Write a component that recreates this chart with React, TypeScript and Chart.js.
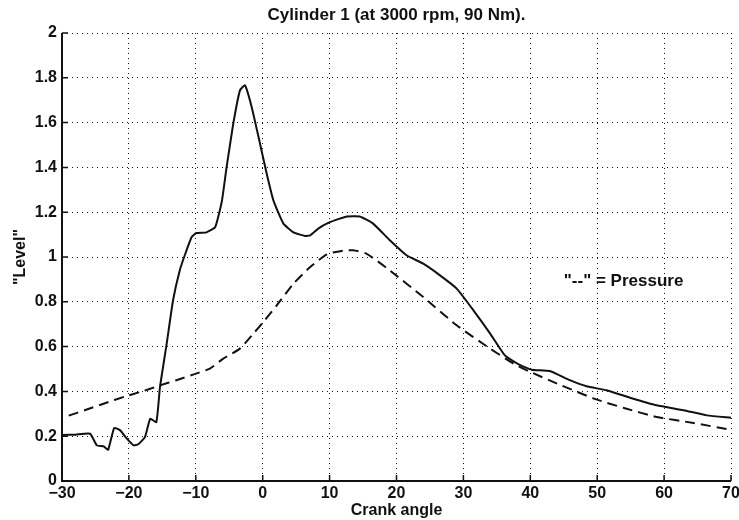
import React, { useEffect, useRef } from "react";
import { Chart, registerables } from "chart.js";

Chart.register(...registerables);

// ---- Data ----
const TITLE = "Cylinder 1 (at 3000 rpm, 90 Nm).";
const X_LABEL = "Crank angle";
const Y_LABEL = '"Level"';
const NOTE_TEXT = '"--" = Pressure';
const NOTE_X = 45;
const NOTE_Y = 0.89;

const X_MIN = -30;
const X_MAX = 70;
const X_STEP = 10;
const Y_MIN = 0;
const Y_MAX = 2;
const Y_STEP = 0.2;

const levelX = [
  -30, -28, -25.8, -24.8, -23.8, -23.1, -22.2, -21.3, -20.3, -19.3, -18.6, -17.6,
  -16.8, -15.9, -15.35, -14.35, -13.4, -12.4, -11.5, -10.6, -9.9, -8.4, -7.1, -6.1,
  -5.4, -4.4, -3.4, -2.65, -1.65, -0.4, 0.6, 1.6, 3.1, 4.6, 6.35, 7.1, 8.3, 9.8,
  11.4, 12.6, 14.5, 16.5, 19.0, 21.5, 24.0, 26.5, 29.0, 31.5, 34.0, 36.2, 38.5,
  40.2, 42.9, 45.9, 48.4, 51.4, 54.9, 58.9, 62.9, 66.4, 70,
];
const levelY = [
  0.205, 0.207, 0.211, 0.159, 0.155, 0.14, 0.237, 0.226, 0.189, 0.159, 0.164, 0.196,
  0.278, 0.263, 0.42, 0.613, 0.807, 0.94, 1.02, 1.09, 1.107, 1.11, 1.134, 1.25,
  1.4, 1.595, 1.744, 1.766, 1.67, 1.506, 1.372, 1.253, 1.149, 1.11, 1.094, 1.097,
  1.127, 1.152, 1.17, 1.181, 1.181, 1.149, 1.075, 1.008, 0.97, 0.918, 0.859, 0.762,
  0.658, 0.561, 0.517, 0.497, 0.491, 0.45, 0.423, 0.405, 0.372, 0.338, 0.316, 0.293,
  0.282,
];

const pressureX = [
  -29, -26.3, -23.8, -20.3, -18.3, -15.35, -12.9, -10.4, -7.9, -5.9, -3.4, -1.4,
  0.1, 2.1, 4.6, 7.1, 9.6, 12.0, 13.5, 15.5, 19.0, 24.0, 29.0, 34.0, 37.5, 40.0,
  44.0, 49.5, 54.0, 58.9, 64.4, 70,
];
const pressureY = [
  0.292, 0.319, 0.345, 0.38, 0.397, 0.427, 0.45, 0.475, 0.502, 0.546, 0.591, 0.658,
  0.71, 0.784, 0.881, 0.955, 1.012, 1.028, 1.03, 1.015, 0.94, 0.821, 0.695, 0.591,
  0.524, 0.487, 0.435, 0.368, 0.326, 0.286, 0.259, 0.228,
];

const FONT = "'Liberation Sans', Arial, Helvetica, sans-serif";
const INK = "#111";

const axesPlugin = {
  id: "matlabAxes",
  afterDraw(chart: any) {
    const { ctx, chartArea, scales } = chart;
    const xs = scales.x;
    const ys = scales.y;
    ctx.save();
    ctx.setLineDash([]);
    ctx.strokeStyle = INK;
    // inward ticks
    ctx.lineWidth = 1.5;
    ctx.beginPath();
    xs.ticks.forEach((t: any) => {
      const px = xs.getPixelForValue(t.value);
      ctx.moveTo(px, chartArea.bottom);
      ctx.lineTo(px, chartArea.bottom - 6);
    });
    ys.ticks.forEach((t: any) => {
      const py = ys.getPixelForValue(t.value);
      ctx.moveTo(chartArea.left, py);
      ctx.lineTo(chartArea.left + 6, py);
    });
    ctx.stroke();
    // solid axes (left, bottom)
    ctx.lineWidth = 2;
    ctx.beginPath();
    ctx.moveTo(chartArea.left, chartArea.top);
    ctx.lineTo(chartArea.left, chartArea.bottom);
    ctx.lineTo(chartArea.right, chartArea.bottom);
    ctx.stroke();
    // note text
    ctx.fillStyle = INK;
    ctx.font = `bold 17px ${FONT}`;
    ctx.textAlign = "left";
    ctx.textBaseline = "middle";
    ctx.fillText(NOTE_TEXT, xs.getPixelForValue(NOTE_X), ys.getPixelForValue(NOTE_Y));
    ctx.restore();
  },
};

export default function App() {
  const ref = useRef<HTMLCanvasElement | null>(null);

  useEffect(() => {
    document.body.style.margin = "0";
    document.body.style.background = "#fff";
    const canvas = ref.current;
    if (!canvas) return;

    const toPts = (xs: number[], ys: number[]) => xs.map((x, i) => ({ x, y: ys[i] }));

    const chart = new Chart(canvas, {
      type: "line",
      data: {
        datasets: [
          {
            label: "Level",
            data: toPts(levelX, levelY),
            borderColor: INK,
            borderWidth: 2,
            pointRadius: 0,
            tension: 0.15,
            fill: false,
          },
          {
            label: "Pressure",
            data: toPts(pressureX, pressureY),
            borderColor: INK,
            borderWidth: 2,
            borderDash: [10, 6],
            pointRadius: 0,
            tension: 0.2,
            fill: false,
          },
        ],
      },
      options: {
        animation: false,
        responsive: false,
        devicePixelRatio: 1,
        layout: { padding: { left: 0, right: 8, top: 0, bottom: 0 } },
        plugins: {
          legend: { display: false },
          tooltip: { enabled: false },
          title: {
            display: true,
            text: TITLE,
            fullSize: false,
            color: INK,
            font: { family: FONT, size: 17, weight: "bold" },
            padding: { top: 5, bottom: 7.6 },
          },
        },
        scales: {
          x: {
            type: "linear",
            min: X_MIN,
            max: X_MAX,
            afterFit(scale: any) {
              scale.height = 39;
              scale.paddingLeft = 0;
              scale.paddingRight = 0;
            },
            ticks: {
              stepSize: X_STEP,
              color: INK,
              padding: 3,
              maxRotation: 0,
              font: { family: FONT, size: 16, weight: "bold" },
              callback: (v: any) => String(Math.round(v)).replace("-", "\u2212"),
            },
            grid: { color: INK, lineWidth: 1, drawTicks: false },
            border: { display: false, dash: [1, 4] },
            title: {
              display: true,
              text: X_LABEL,
              color: INK,
              font: { family: FONT, size: 16, weight: "bold" },
              padding: { top: 0, bottom: 0 },
            },
          },
          y: {
            type: "linear",
            min: Y_MIN,
            max: Y_MAX,
            afterFit(scale: any) {
              scale.width = 62;
              scale.paddingTop = 0;
              scale.paddingBottom = 0;
            },
            ticks: {
              stepSize: Y_STEP,
              color: INK,
              padding: 5,
              font: { family: FONT, size: 16, weight: "bold" },
              callback: (v: any) => String(Number(Number(v).toFixed(1))),
            },
            grid: { color: INK, lineWidth: 1, drawTicks: false },
            border: { display: false, dash: [1, 4] },
            title: {
              display: true,
              text: Y_LABEL,
              color: INK,
              font: { family: FONT, size: 16, weight: "bold" },
              padding: { top: 11, bottom: 0 },
            },
          },
        },
      },
      plugins: [axesPlugin],
    } as any);

    return () => chart.destroy();
  }, []);

  return (
    <canvas
      ref={ref}
      width={739}
      height={520}
      style={{ display: "block", width: 739, height: 520 }}
    />
  );
}
